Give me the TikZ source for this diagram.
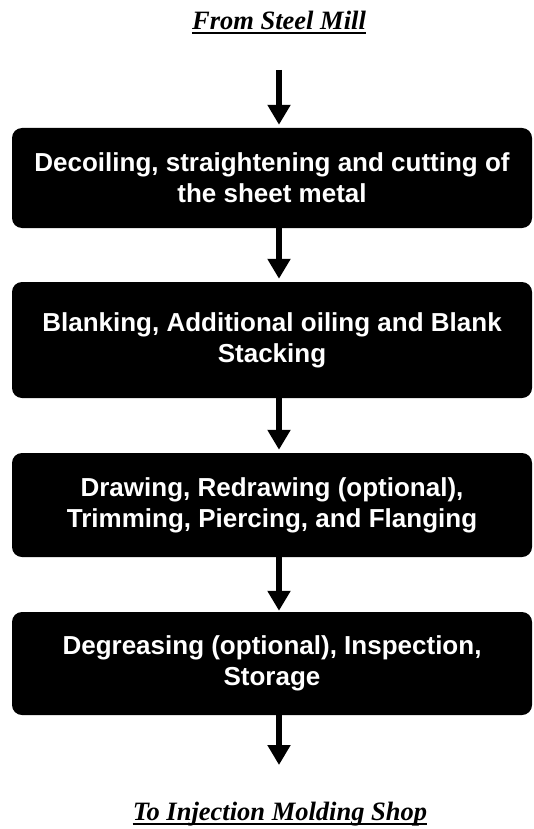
\documentclass[tikz,border=0pt]{standalone}
\usepackage{fontspec}
\setmainfont{Liberation Serif}
\newfontfamily\boxfont{Liberation Sans}
\usetikzlibrary{arrows.meta}
\begin{document}
\begin{tikzpicture}[x=1pt,y=-1pt,
  stepbox/.style={fill=black, rounded corners=10pt, minimum width=520pt, inner sep=0pt,
    text=white, align=center, font=\boxfont\bfseries\fontsize{26}{31}\selectfont},
  titletext/.style={inner sep=0pt, anchor=base, font=\bfseries\itshape\fontsize{26.5}{30}\selectfont},
  flowarrow/.style={line width=6pt, -{Triangle[width=22pt,length=20pt]}},
  uline/.style={line width=2pt}]
\fill[white] (0,0) rectangle (533,829);
\useasboundingbox (0,0) rectangle (533,829);

\node[titletext] (from) at (279,30) {From Steel Mill};
\draw[uline] ([yshift=-3.5pt]from.base west) -- ([yshift=-3.5pt]from.base east);

\coordinate (c0) at (279,70);
\coordinate (cend) at (279,765);

\node[stepbox, minimum height=100pt] (b1) at (272,178) {Decoiling, straightening and cutting of\\the sheet metal};
\node[stepbox, minimum height=116pt] (b2) at (272,340) {Blanking, Additional oiling and Blank\\Stacking};
\node[stepbox, minimum height=104pt] (b3) at (272,505) {Drawing, Redrawing (optional),\\Trimming, Piercing, and Flanging};
\node[stepbox, minimum height=103pt] (b4) at (272,663.5) {Degreasing (optional), Inspection,\\Storage};

\draw[flowarrow, shorten >=3pt] (c0) -- (c0 |- b1.north);
\draw[flowarrow, shorten >=3pt] (b1.south -| c0) -- (b2.north -| c0);
\draw[flowarrow, shorten >=3pt] (b2.south -| c0) -- (b3.north -| c0);
\draw[flowarrow, shorten >=1pt] (b3.south -| c0) -- (b4.north -| c0);
\draw[flowarrow] (b4.south -| cend) -- (cend);

\node[titletext] (to) at (280,820) {To Injection Molding Shop};
\draw[uline] ([yshift=-3.5pt]to.base west) -- ([yshift=-3.5pt]to.base east);
\end{tikzpicture}
\end{document}
